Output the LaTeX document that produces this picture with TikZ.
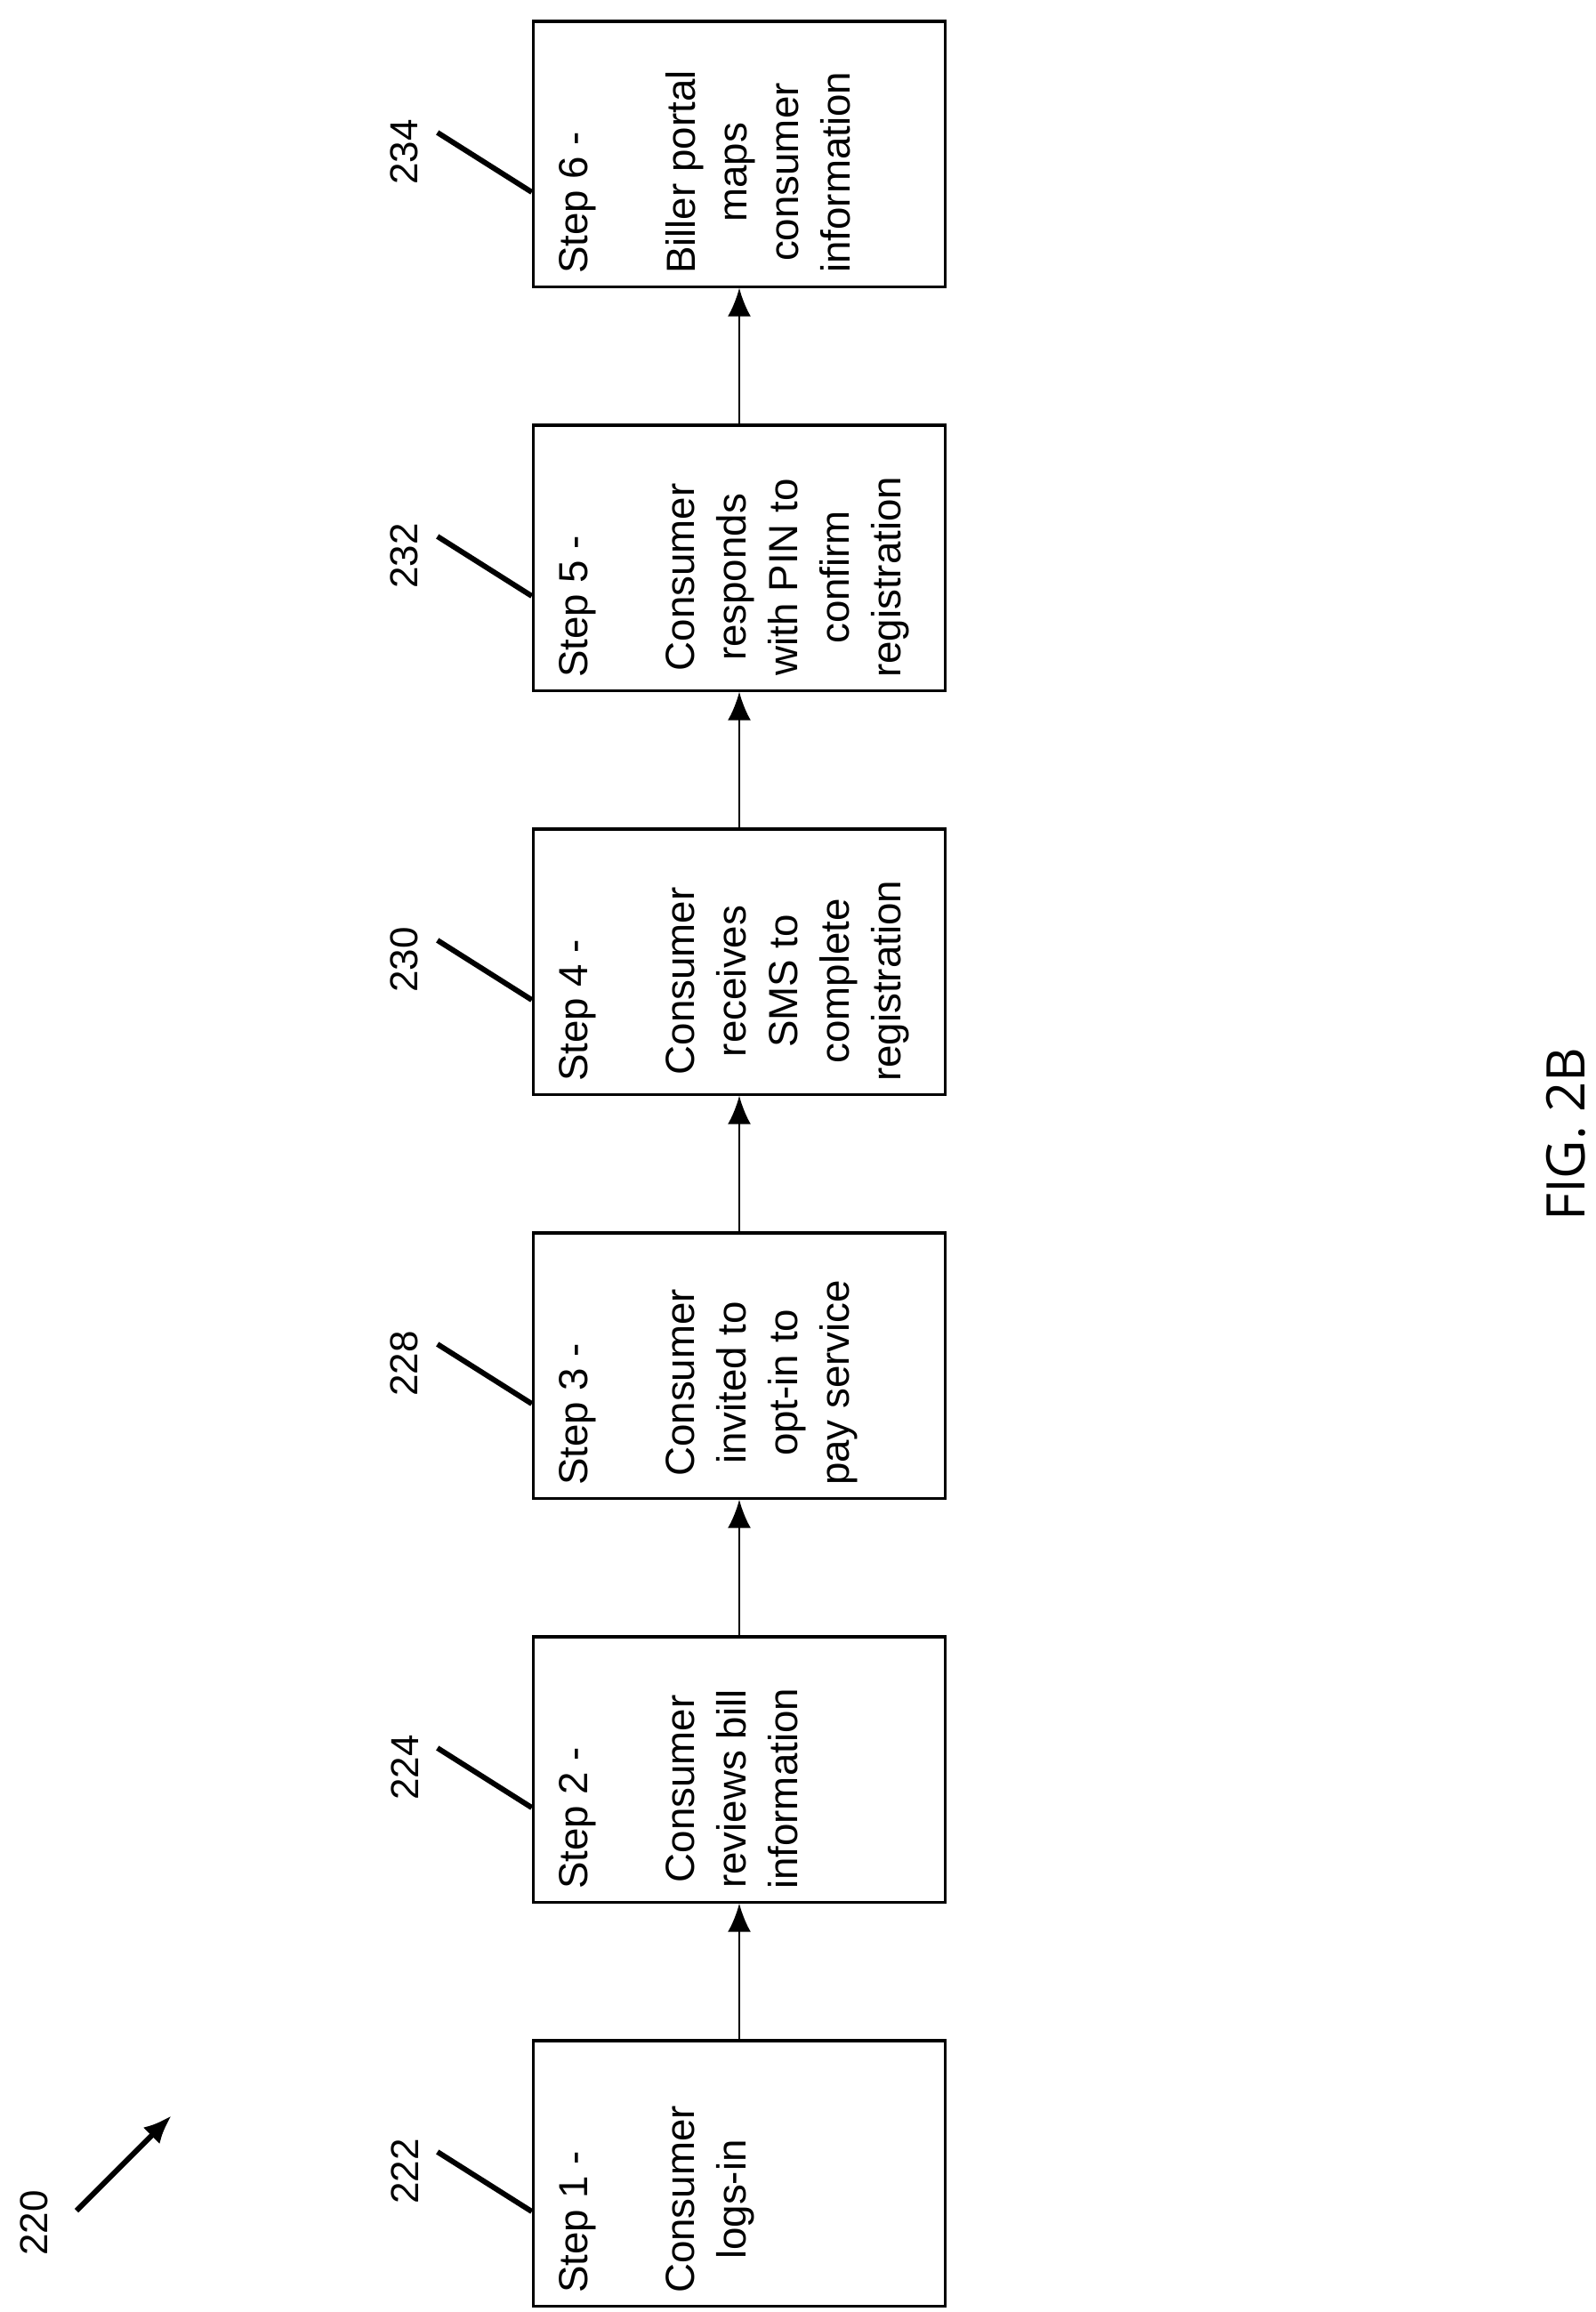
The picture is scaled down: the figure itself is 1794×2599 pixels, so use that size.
\documentclass[tikz,border=0pt]{standalone}
\usepackage{fontspec}
\setmainfont{Liberation Sans}
\newfontfamily\figfont{Open Sans}
\usetikzlibrary{arrows.meta}

\begin{document}
\begin{tikzpicture}[x=0.01cm,y=-0.01cm,>={Latex[length=3.2mm,width=2.6mm]},
  step box/.style={draw,line width=0.9pt,minimum width=4.63cm,minimum height=2.98cm,inner sep=0pt},
  step text/.style={rotate=90,anchor=north west,inner sep=0pt,font=\fontsize{13}{16.5}\selectfont},
  body text/.style={step text,align=center},
  leader/.style={line width=1.7pt},
  ref num/.style={rotate=90,font=\fontsize{12.5}{15}\selectfont}]

  \useasboundingbox (0,0) rectangle (1794,2599);

  % boxes, bottom to top
  \foreach \i/\cy in {1/2443,2/1989,3/1535,4/1081,5/627,6/173}
    \node[step box] (b\i) at (831,\cy) {};

  % texts
  \foreach \i/\body in {1/{Consumer\\logs-in},
                        2/{Consumer\\reviews bill\\information},
                        3/{Consumer\\invited to\\opt-in to\\pay service},
                        4/{Consumer\\receives\\SMS to\\complete\\registration},
                        5/{Consumer\\responds\\with PIN to\\confirm\\registration},
                        6/{Biller portal\\maps\\consumer\\information}}{
    \node[step text] (s\i) at ([xshift=3.0mm,yshift=1.5mm]b\i.south west) {Step \i\ -};
    \node[body text] (t\i) at ([xshift=15.0mm,yshift=1.5mm]b\i.south west) {\body};
  }

  % reference numerals and leaders
  \foreach \i/\num in {1/222,2/224,3/228,4/230,5/232,6/234}{
    \coordinate (l\i) at ([xshift=-10.6mm,yshift=2.4mm]b\i.west);
    \node[ref num] (n\i) at ([xshift=-14.3mm,yshift=0.2mm]b\i.west) {\num};
    \draw[leader] (l\i) -- ([yshift=-4.3mm]b\i.west);
  }

  % flow arrows
  \foreach \i/\j in {1/2,2/3,3/4,4/5,5/6}
    \draw[->,line width=0.8pt] (b\i) -- (b\j);

  % figure number
  \node[ref num] (n220) at (38,2499) {220};
  \coordinate (a220) at (86,2485);
  \coordinate (t220) at (193,2378);
  \draw[->,line width=1.7pt] (a220) -- (t220);

  \node[rotate=90,font=\figfont\fontsize{17}{20}\selectfont] (fig) at (1760,1275) {FIG. 2B};
\end{tikzpicture}
\end{document}
